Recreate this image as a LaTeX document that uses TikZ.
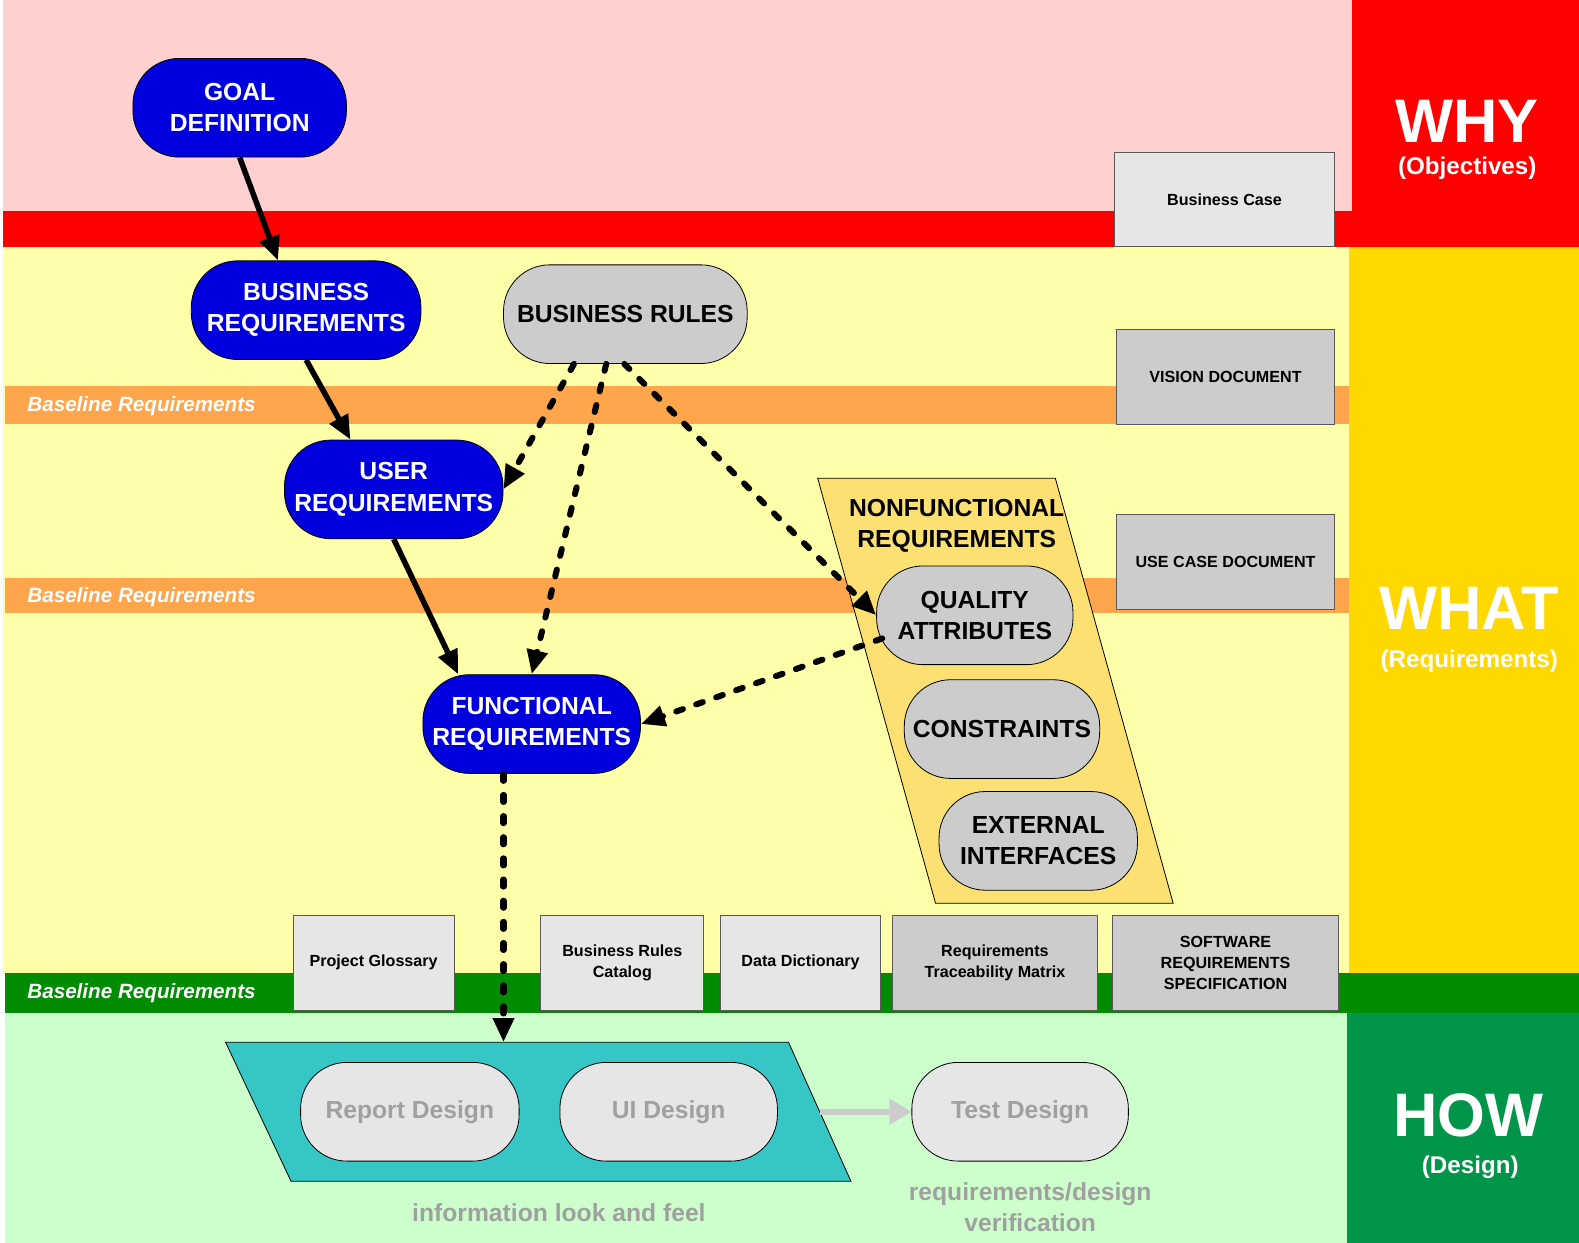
\documentclass[tikz,border=0pt]{standalone}
\usepackage{fontspec}
\setmainfont{Liberation Sans}
\usetikzlibrary{arrows.meta}
\definecolor{whybg}{HTML}{FFD0D0}
\definecolor{whyred}{HTML}{FF0000}
\definecolor{whatbg}{HTML}{FFFFAA}
\definecolor{whatgold}{HTML}{FFD800}
\definecolor{baseorange}{HTML}{FFA64D}
\definecolor{basegreen}{HTML}{008C00}
\definecolor{howbg}{HTML}{CCFFCC}
\definecolor{howgreen}{HTML}{009548}
\definecolor{reqblue}{HTML}{0000DD}
\definecolor{subgrey}{HTML}{CCCCCC}
\definecolor{lightgrey}{HTML}{E6E6E6}
\definecolor{txtgrey}{HTML}{A0A0A0}
\definecolor{nfrfill}{HTML}{FCE072}
\definecolor{designteal}{HTML}{37C6C6}

\begin{document}
\begin{tikzpicture}[x=1pt,y=-1pt,inner sep=0pt,minimum height=98pt]
\tikzstyle{phase}=[rectangle,rounded corners=46pt,draw=black,line width=0.8pt,minimum width=216pt,align=center,font=\fontsize{24.5}{31}\selectfont\bfseries]
\tikzstyle{req}=[phase,fill=reqblue,text=white]
\tikzstyle{sub}=[phase,fill=subgrey,text=black]
\tikzstyle{design}=[phase,fill=lightgrey,text=txtgrey]
\tikzstyle{doc}=[rectangle,draw=black!65,line width=0.9pt,minimum height=94pt,align=center,font=\fontsize{16}{21}\selectfont\bfseries]
\tikzstyle{flow}=[line width=5.5pt,-{Triangle[length=24pt,width=20pt]}]
\tikzstyle{trace}=[flow,line width=6pt,dash pattern=on 7pt off 14pt,line cap=round]
\tikzstyle{pass}=[draw=subgrey,line width=6pt,-{Triangle[length=22pt,width=25pt]}]
\tikzstyle{baseline}=[text=white,anchor=west,minimum height=0pt,font=\fontsize{20.5}{24}\selectfont\bfseries\itshape]
\tikzstyle{zone}=[text=white,minimum height=0pt,font=\fontsize{61}{61}\selectfont\bfseries]
\tikzstyle{zonesub}=[text=white,minimum height=0pt,font=\fontsize{24}{28}\selectfont\bfseries]
\tikzstyle{note}=[text=txtgrey,minimum height=0pt,align=center,font=\fontsize{24.5}{31}\selectfont\bfseries]

% bands
\fill[white] (0,0) rectangle (1568,1234);
\fill[whybg] (3,0) rectangle (1343,210);
\fill[whyred] (3,210) rectangle (1343,245);
\fill[whyred] (1343,0) rectangle (1568,245);
\fill[whatbg] (3,245) rectangle (1340,966);
\fill[whatgold] (1340,245) rectangle (1568,966);
\fill[baseorange] (5,383) rectangle (1340,421);
\fill[baseorange] (5,574) rectangle (1340,609);
\fill[basegreen] (5,966) rectangle (1568,1006);
\fill[howbg] (5,1006) rectangle (1338,1234);
\fill[howgreen] (1338,1006) rectangle (1568,1234);

\node[baseline] (base1) at (27,403) {Baseline Requirements};
\node[baseline] (base2) at (27,593) {Baseline Requirements};
\node[baseline] (base3) at (27,986) {Baseline Requirements};

\node[zone] (why) at (1457,121) {WHY};
\node[zonesub] (whysub) at (1457,167) {(Objectives)};
\node[zone] (what) at (1459,604) {WHAT};
\node[zonesub] (whatsub) at (1459,657) {(Requirements)};
\node[zone] (how) at (1458,1108) {HOW};
\node[zonesub] (howsub) at (1460,1159) {(Design)};

% nonfunctional and design groups
\draw[fill=nfrfill,line width=0.8pt] (812,475) -- (1048,475) -- (1165,897) -- (929,897) -- cycle;
\node[minimum height=0pt,align=center,font=\fontsize{24.5}{31}\selectfont\bfseries] (nfr) at (950,522) {NONFUNCTIONAL\\REQUIREMENTS};
\draw[fill=designteal,line width=0.8pt] (224,1035) -- (783,1035) -- (845,1173) -- (289,1173) -- cycle;
\coordinate (designtop) at (500,1035);
\coordinate (designright) at (814,1104);

\node[req,minimum width=212pt] (goal) at (238,107) {GOAL\\DEFINITION};
\node[req,minimum width=228pt] (busreq) at (304,308) {BUSINESS\\REQUIREMENTS};
\node[sub,minimum width=242pt] (rules) at (621,312) {BUSINESS RULES};
\node[req,minimum width=217pt] (userreq) at (391,486) {USER\\REQUIREMENTS};
\node[req] (funcreq) at (528,719) {FUNCTIONAL\\REQUIREMENTS};
\node[sub,minimum width=195pt] (quality) at (968,611) {QUALITY\\ATTRIBUTES};
\node[sub,minimum width=194pt] (constraints) at (995,724) {CONSTRAINTS};
\node[sub,minimum width=197pt] (extif) at (1031,835) {EXTERNAL\\INTERFACES};

\node[design,minimum width=217pt] (report) at (407,1104) {Report Design};
\node[design] (uidesign) at (664,1104) {UI Design};
\node[design,minimum width=215pt] (testdesign) at (1013,1104) {Test Design};
\node[note] (lookfeel) at (555,1204) {information look and feel};
\node[note] (verify) at (1023,1199) {requirements/design\\verification};

\node[doc,fill=lightgrey,minimum width=218pt,minimum height=93pt] (bizcase) at (1216,198) {Business Case};
\node[doc,fill=subgrey,minimum width=216pt] (vision) at (1217,374) {VISION DOCUMENT};
\node[doc,fill=subgrey,minimum width=216pt,minimum height=95pt] (usecase) at (1217,558) {USE CASE DOCUMENT};
\node[doc,fill=lightgrey,minimum width=160pt] (glossary) at (371,956) {Project Glossary};
\node[doc,fill=lightgrey,minimum width=162pt] (catalog) at (618,956) {Business Rules\\Catalog};
\node[doc,fill=lightgrey,minimum width=159pt] (datadict) at (795,956) {Data Dictionary};
\node[doc,fill=subgrey,minimum width=203pt] (rtm) at (988,956) {Requirements\\Traceability Matrix};
\node[doc,fill=subgrey,minimum width=225pt] (srs) at (1217,956) {SOFTWARE\\REQUIREMENTS\\SPECIFICATION};

\draw[flow] (goal.south) -- ([xshift=-28pt]busreq.north);
\draw[flow] (busreq.south) -- ([xshift=-43pt]userreq.north);
\draw[flow] (userreq.south) -- ([xshift=-73pt]funcreq.north);
\draw[trace] ([xshift=-51pt]rules.south) -- (userreq.east);
\draw[trace] ([xshift=-19pt]rules.south) -- (funcreq.north);
\draw[trace] ([xshift=-1pt]rules.south) -- (quality.west);
\draw[trace] ([xshift=6pt,yshift=-23pt]quality.west) -- (funcreq.east);
\draw[trace] ([xshift=-28pt]funcreq.south) -- (designtop);
\draw[pass] (designright) -- (testdesign.west);
\end{tikzpicture}
\end{document}
